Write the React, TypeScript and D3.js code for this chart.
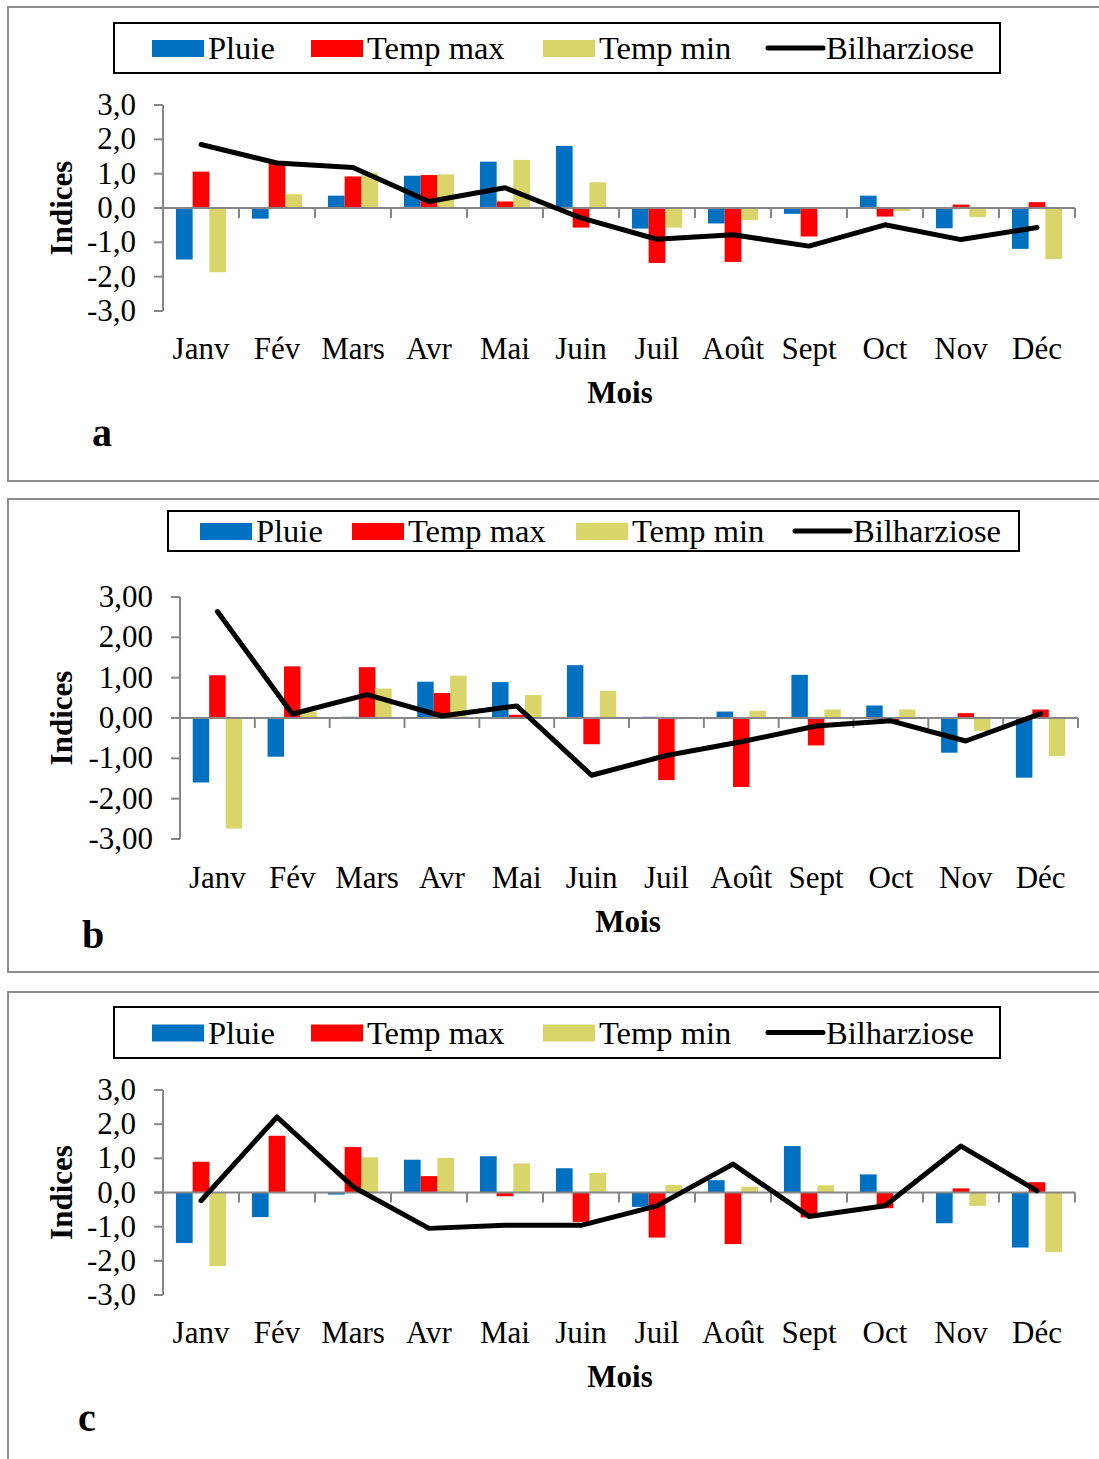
import * as d3 from 'd3';

const months = ['Janv', 'Fév', 'Mars', 'Avr', 'Mai', 'Juin', 'Juil', 'Août', 'Sept', 'Oct', 'Nov', 'Déc'];
const seriesNames = ['Pluie', 'Temp max', 'Temp min'];
const lineName = 'Bilharziose';
const yTicks = [-3, -2, -1, 0, 1, 2, 3];

// panel a
const pluieA = [-1.5, -0.31, 0.36, 0.94, 1.35, 1.81, -0.6, -0.45, -0.17, 0.36, -0.59, -1.19];
const tmaxA = [1.06, 1.37, 0.92, 0.96, 0.19, -0.57, -1.6, -1.57, -0.83, -0.25, 0.1, 0.17];
const tminA = [-1.87, 0.4, 1.03, 0.98, 1.4, 0.75, -0.57, -0.35, 0, -0.09, -0.26, -1.49];
const bilhA = [1.85, 1.31, 1.18, 0.19, 0.59, -0.29, -0.91, -0.78, -1.11, -0.49, -0.92, -0.57];

// panel b
const pluieB = [-1.6, -0.96, 0.03, 0.9, 0.89, 1.31, 0.03, 0.16, 1.07, 0.31, -0.86, -1.48];
const tmaxB = [1.06, 1.28, 1.26, 0.62, 0.08, -0.65, -1.54, -1.71, -0.68, -0.08, 0.12, 0.21];
const tminB = [-2.74, 0.16, 0.73, 1.05, 0.57, 0.67, 0, 0.18, 0.21, 0.21, -0.32, -0.94];
const bilhB = [2.64, 0.1, 0.58, 0.05, 0.3, -1.42, -0.93, -0.59, -0.2, -0.07, -0.57, 0.11];

// panel c
const pluieC = [-1.48, -0.72, -0.06, 0.96, 1.06, 0.71, -0.42, 0.36, 1.36, 0.53, -0.9, -1.61];
const tmaxC = [0.9, 1.66, 1.33, 0.48, -0.11, -0.86, -1.32, -1.51, -0.73, -0.46, 0.12, 0.3];
const tminC = [-2.15, 0, 1.03, 1.01, 0.85, 0.57, 0.22, 0.17, 0.21, 0, -0.39, -1.74];
const bilhC = [-0.24, 2.21, 0.17, -1.05, -0.96, -0.96, -0.39, 0.83, -0.7, -0.39, 1.36, 0.05];

const colors = ['#0070C0', '#FF0000', '#D9D56A'];
const FONT = '"Liberation Serif", "Times New Roman", serif';
const AXIS = '#868686';

const locale = d3.formatLocale({ decimal: ',', thousands: ' ', grouping: [3], currency: ['', ''], minus: '-' });

type Layout = {
  top: number; bottom: number | null;
  x0: number; x1: number; y0: number; y1: number;
  legend: { x: number; y: number; w: number; h: number; items: number[] };
  monthY: number; moisX: number; moisY: number;
  letter: string; letterX: number; letterY: number;
  fmt: string;
};

const Panel = ({ bars, line, L }: { bars: number[][]; line: number[]; L: Layout }) => {
  const x = d3.scaleBand().domain(months).range([L.x0, L.x1]);
  const inner = d3.scaleBand().domain(seriesNames).range([0, x.bandwidth()]).paddingOuter(0.775);
  const y = d3.scaleLinear().domain([-3, 3]).range([L.y1, L.y0]);
  const fmt = locale.format(L.fmt);
  const path = d3.line<number>()
    .x((_, i) => (x(months[i]) as number) + x.bandwidth() / 2)
    .y(d => y(d))(line);
  const lg = L.legend;
  const cy = lg.y + lg.h / 2;
  const labels = [...seriesNames, lineName];

  return (
    <g>
      {L.bottom !== null
        ? <rect x={8} y={L.top} width={1200} height={L.bottom - L.top} fill="none" stroke="#8c8c8c" strokeWidth={2} />
        : <path d={`M1200,${L.top}H8V1470`} fill="none" stroke="#8c8c8c" strokeWidth={2} />}

      {/* legend */}
      <rect x={lg.x} y={lg.y} width={lg.w} height={lg.h} fill="#fff" stroke="#000" strokeWidth={2} />
      {labels.map((name, i) => {
        const ix = lg.items[i];
        return (
          <g key={name}>
            {i < 3
              ? <rect x={ix} y={cy - 8} width={52} height={17} fill={colors[i]} />
              : <line x1={ix} x2={ix + 55} y1={cy} y2={cy} stroke="#000" strokeWidth={5} strokeLinecap="round" />}
            <text x={ix + (i < 3 ? 56 : 58)} y={cy + 11} fontSize={32.5}>{name}</text>
          </g>
        );
      })}

      {/* bars */}
      {bars.map((vals, s) => vals.map((v, i) => (
        <rect key={`${s}-${i}`}
          x={(x(months[i]) as number) + (inner(seriesNames[s]) as number)}
          y={Math.min(y(v), y(0))}
          width={inner.bandwidth()}
          height={Math.abs(y(v) - y(0))}
          fill={colors[s]} />
      )))}

      {/* axes */}
      <line x1={L.x0} x2={L.x0} y1={L.y0} y2={L.y1} stroke={AXIS} strokeWidth={2} />
      {yTicks.map(t => (
        <g key={t}>
          <line x1={L.x0 - 9} x2={L.x0} y1={y(t)} y2={y(t)} stroke={AXIS} strokeWidth={2} />
          <text x={L.x0 - 27} y={y(t) + 10} textAnchor="end" fontSize={31}>{fmt(t)}</text>
        </g>
      ))}
      <line x1={L.x0 - 9} x2={L.x1} y1={y(0)} y2={y(0)} stroke={AXIS} strokeWidth={2} />
      {months.map(m => (
        <line key={m} x1={(x(m) as number) + x.bandwidth()} x2={(x(m) as number) + x.bandwidth()}
          y1={y(0)} y2={y(0) + 10} stroke={AXIS} strokeWidth={2} />
      ))}

      <path d={path ?? ''} fill="none" stroke="#000" strokeWidth={5} strokeLinecap="round" strokeLinejoin="round" />

      {months.map(m => (
        <text key={m} x={(x(m) as number) + x.bandwidth() / 2} y={L.monthY} textAnchor="middle" fontSize={31}>{m}</text>
      ))}
      <text x={L.moisX} y={L.moisY} textAnchor="middle" fontSize={31} fontWeight="bold">Mois</text>
      <text transform={`translate(72,${(L.y0 + L.y1) / 2}) rotate(-90)`} textAnchor="middle" fontSize={31} fontWeight="bold">Indices</text>
      <text x={L.letterX} y={L.letterY} fontSize={40} fontWeight="bold">{L.letter}</text>
    </g>
  );
};

const layoutA: Layout = {
  top: 7, bottom: 481, x0: 163, x1: 1075, y0: 105, y1: 311,
  legend: { x: 114, y: 23, w: 886, h: 50, items: [152, 311, 543, 768] },
  monthY: 359, moisX: 620, moisY: 403, letter: 'a', letterX: 92, letterY: 446, fmt: '.1f',
};
const layoutB: Layout = {
  top: 499, bottom: 972, x0: 180, x1: 1078, y0: 597, y1: 839,
  legend: { x: 168, y: 511, w: 851, h: 40, items: [200, 352, 576, 795] },
  monthY: 888, moisX: 628, moisY: 932, letter: 'b', letterX: 82, letterY: 948, fmt: '.2f',
};
const layoutC: Layout = {
  top: 992, bottom: null, x0: 163, x1: 1075, y0: 1090, y1: 1295,
  legend: { x: 114, y: 1007, w: 886, h: 51, items: [152, 311, 543, 768] },
  monthY: 1343, moisX: 620, moisY: 1387, letter: 'c', letterX: 78, letterY: 1431, fmt: '.1f',
};

export default function App() {
  return (
    <svg width={1099} height={1459} style={{ position: 'absolute', left: 0, top: 0, background: '#fff' }}
      fontFamily={FONT}>
      <rect width={1099} height={1459} fill="#fff" />
      <Panel bars={[pluieA, tmaxA, tminA]} line={bilhA} L={layoutA} />
      <Panel bars={[pluieB, tmaxB, tminB]} line={bilhB} L={layoutB} />
      <Panel bars={[pluieC, tmaxC, tminC]} line={bilhC} L={layoutC} />
    </svg>
  );
}
